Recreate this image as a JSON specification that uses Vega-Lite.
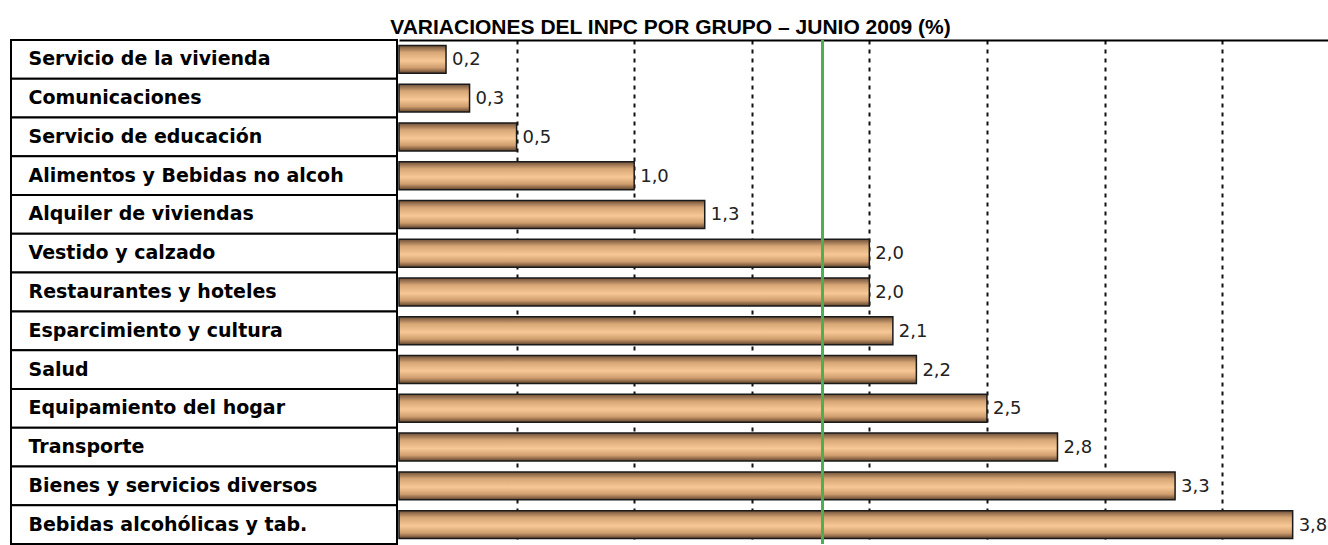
{
  "$schema": "https://vega.github.io/schema/vega-lite/v6.json",
  "padding": {"left": 10, "top": 17, "right": 0, "bottom": 0},
  "autosize": {"type": "pad"},
  "background": "white",
  "title": {"text": "VARIACIONES DEL INPC POR GRUPO – JUNIO 2009 (%)", "font": "Liberation Sans", "fontSize": 21, "fontWeight": "bold", "color": "#000", "anchor": "middle", "offset": 1},
  "data": {"values": [
    {"grupo": "Servicio de la vivienda", "valor": 0.2},
    {"grupo": "Comunicaciones", "valor": 0.3},
    {"grupo": "Servicio de educación", "valor": 0.5},
    {"grupo": "Alimentos y Bebidas no alcoh", "valor": 1.0},
    {"grupo": "Alquiler de viviendas", "valor": 1.3},
    {"grupo": "Vestido y calzado", "valor": 2.0},
    {"grupo": "Restaurantes y hoteles", "valor": 2.0},
    {"grupo": "Esparcimiento y cultura", "valor": 2.1},
    {"grupo": "Salud", "valor": 2.2},
    {"grupo": "Equipamiento del hogar", "valor": 2.5},
    {"grupo": "Transporte", "valor": 2.8},
    {"grupo": "Bienes y servicios diversos", "valor": 3.3},
    {"grupo": "Bebidas alcohólicas y tab.", "valor": 3.8}
  ]},
  "spacing": 0,
  "hconcat": [
    {
      "width": 386,
      "height": 504,
      "mark": {"type": "bar", "fill": "white", "stroke": "black", "strokeWidth": 2},
      "encoding": {
        "y": {"field": "grupo", "type": "nominal", "sort": null,
              "scale": {"paddingInner": 0, "paddingOuter": 0},
              "axis": {"title": null, "ticks": false, "domain": false, "labelAlign": "left", "labelPadding": -17,
                       "labelFont": "DejaVu Sans", "labelFontWeight": "bold", "labelFontSize": 19, "labelColor": "black",
                       "labelLimit": 400, "zindex": 1}}
      }
    },
    {
      "width": 932,
      "height": 504,
      "layer": [
        {
          "mark": {"type": "bar", "stroke": "#1a1a1a", "strokeWidth": 1.5,
                   "fill": {"gradient": "linear", "x1": 0, "y1": 0, "x2": 0, "y2": 1,
                            "stops": [{"offset": 0, "color": "#6f5038"}, {"offset": 0.25, "color": "#d7a676"}, {"offset": 0.55, "color": "#f7c895"}, {"offset": 0.8, "color": "#cf9d6e"}, {"offset": 1, "color": "#5e432d"}]}},
          "encoding": {
            "x": {"field": "valor", "type": "quantitative",
                  "scale": {"domain": [0, 3.963], "nice": false, "zero": true},
                  "axis": {"orient": "top", "values": [0.5, 1, 1.5, 2, 2.5, 3, 3.5], "grid": true, "gridDash": [4, 5],
                           "gridColor": "#111", "gridWidth": 2, "gridOpacity": 1, "labels": false, "ticks": false,
                           "domain": true, "domainColor": "black", "domainWidth": 2, "title": null}},
            "y": {"field": "grupo", "type": "nominal", "sort": null,
                  "scale": {"paddingInner": 0.28, "paddingOuter": 0.14}, "axis": null}
          }
        },
        {
          "mark": {"type": "text", "align": "left", "baseline": "middle", "dx": 6, "dy": 1, "font": "DejaVu Sans", "fontSize": 18, "color": "#222"},
          "encoding": {
            "x": {"field": "valor", "type": "quantitative"},
            "y": {"field": "grupo", "type": "nominal", "sort": null},
            "text": {"field": "valor", "type": "quantitative", "format": ".1f"}
          }
        },
        {
          "mark": {"type": "rule", "color": "#4caf50", "strokeWidth": 2},
          "encoding": {"x": {"datum": 1.8}}
        }
      ]
    }
  ],
  "config": {
    "view": {"stroke": null},
    "locale": {"number": {"decimal": ",", "thousands": ".", "grouping": [3], "currency": ["", " €"]}}
  }
}
